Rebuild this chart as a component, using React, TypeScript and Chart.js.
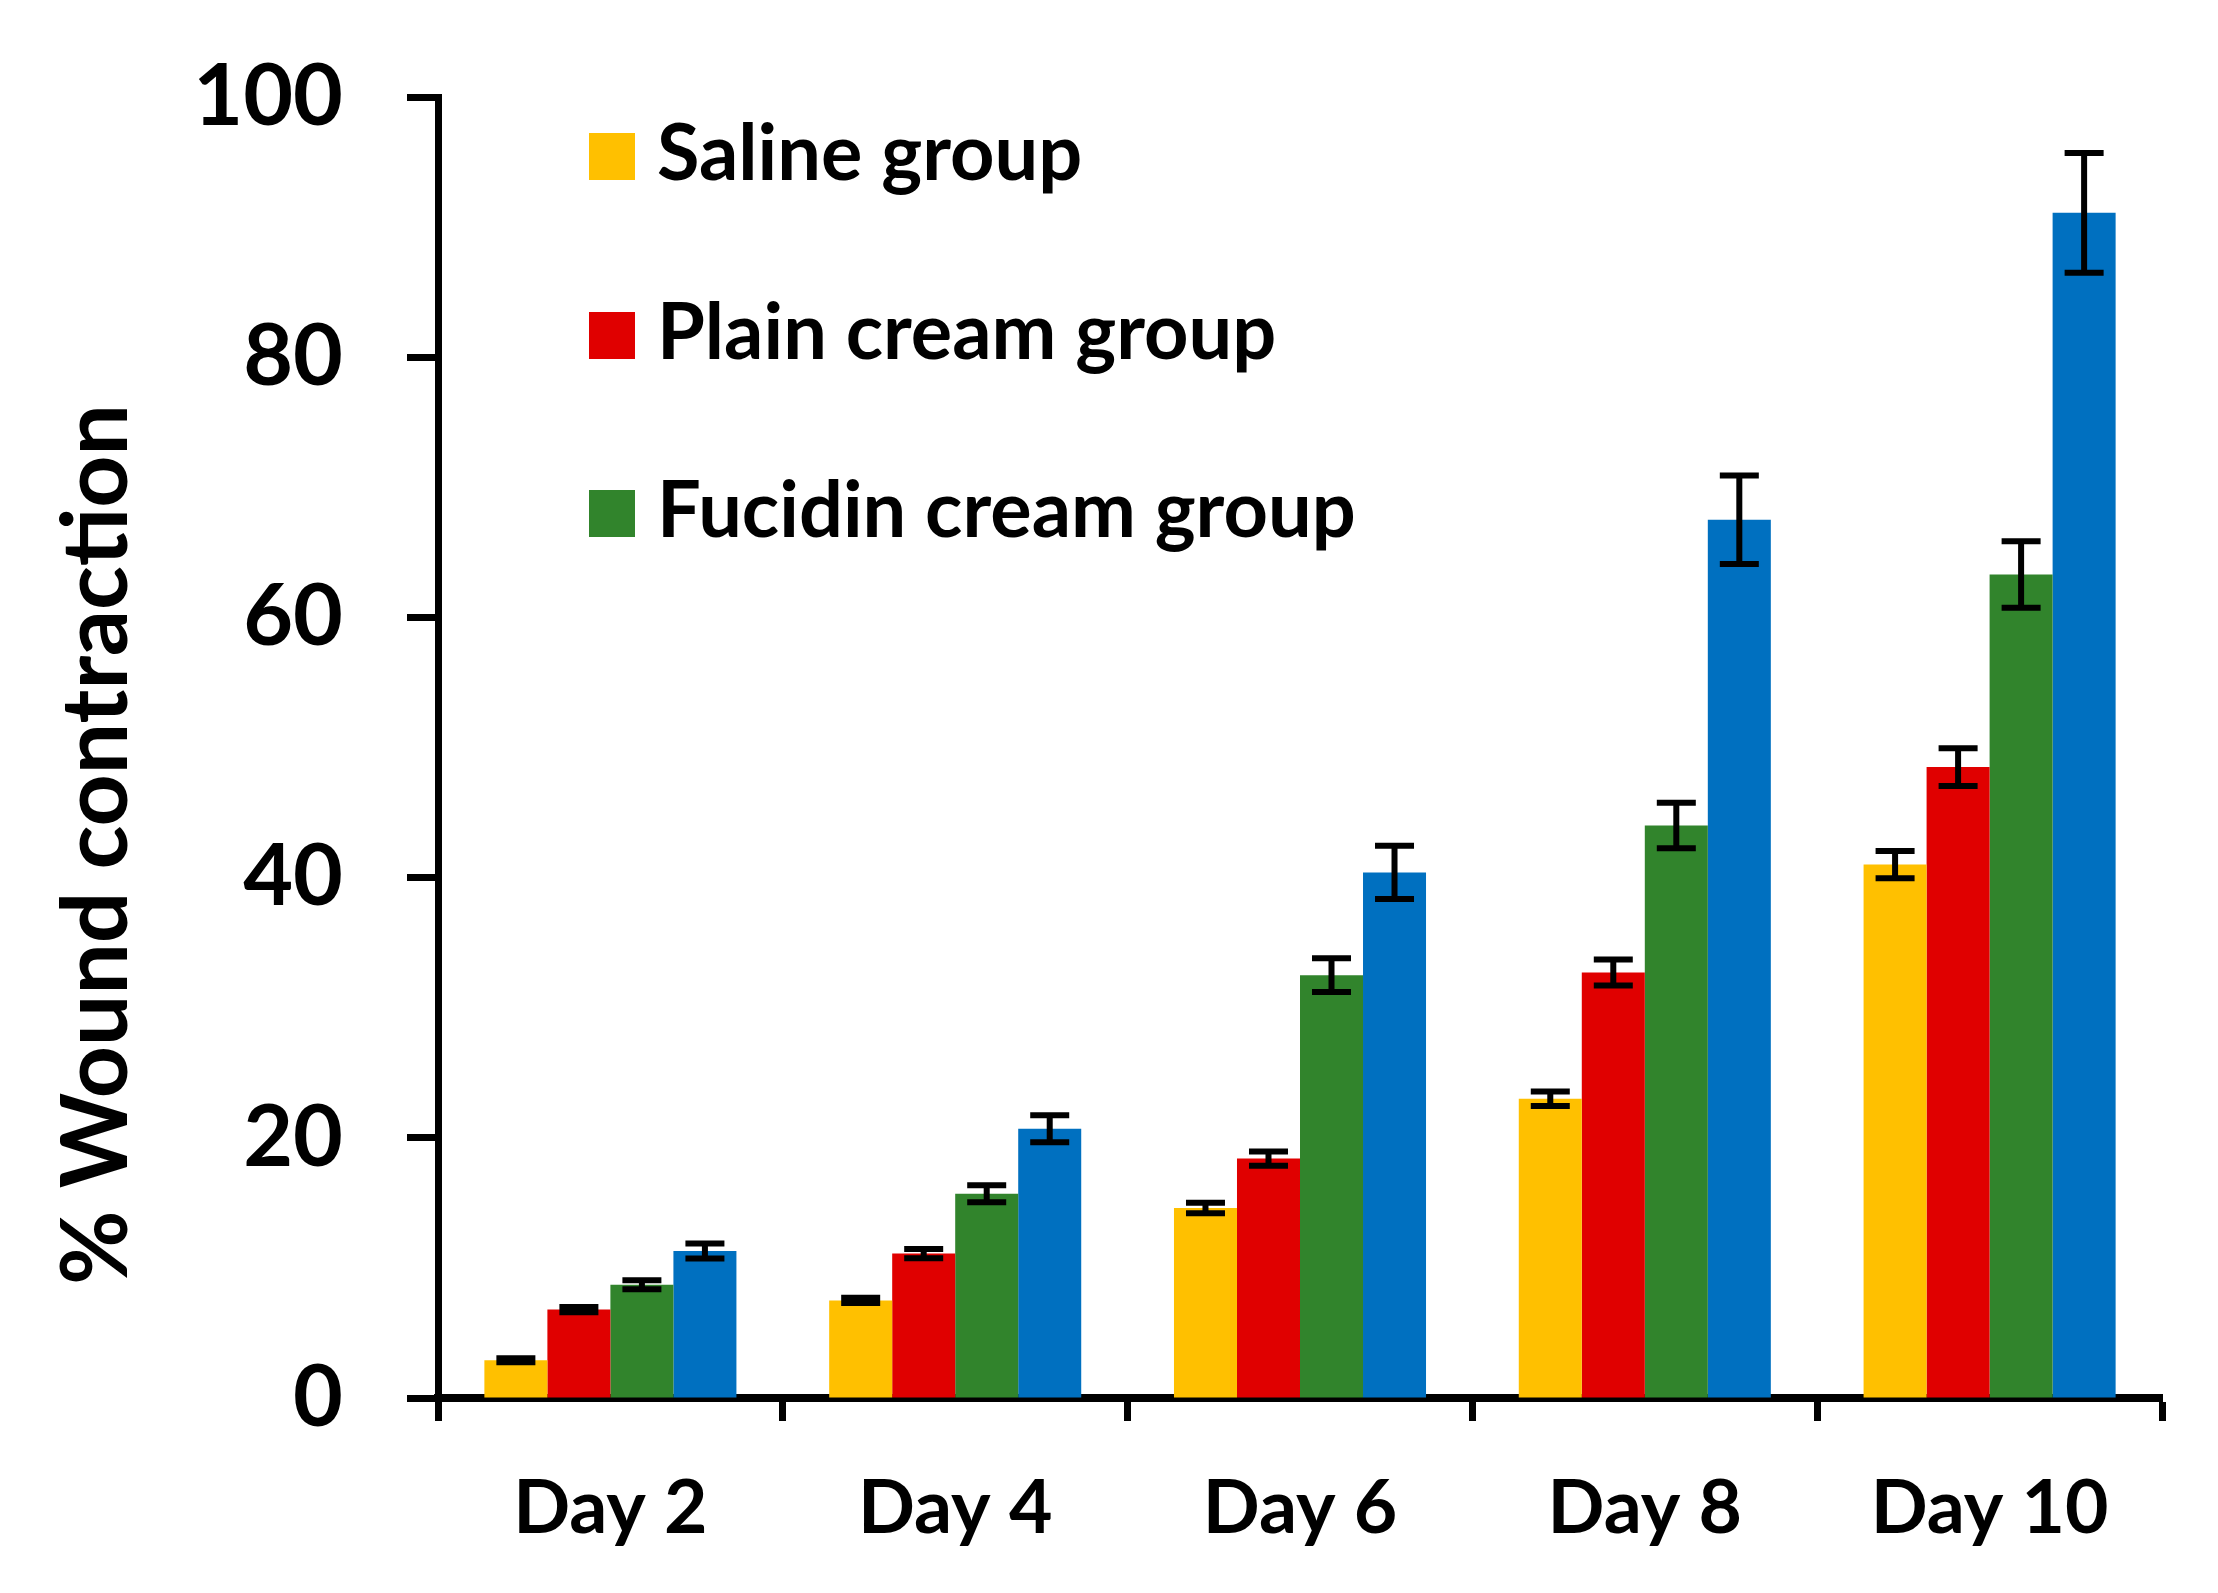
import React, { useEffect, useRef } from 'react';
import { Chart, registerables } from 'chart.js';

Chart.register(...registerables);

const categories = ['Day 2', 'Day 4', 'Day 6', 'Day 8', 'Day 10'];
const seriesLabels = ['Saline group', 'Plain cream group', 'Fucidin cream group', ''];
const salineValues = [2.9, 7.5, 14.6, 23.0, 41.0];
const salineErrors = [0.15, 0.2, 0.4, 0.55, 1.05];
const plainValues = [6.8, 11.1, 18.4, 32.7, 48.5];
const plainErrors = [0.2, 0.35, 0.55, 1.0, 1.45];
const fucidinValues = [8.7, 15.7, 32.5, 44.0, 63.3];
const fucidinErrors = [0.35, 0.65, 1.3, 1.75, 2.55];
const fourthValues = [11.3, 20.7, 40.4, 67.5, 91.1];
const fourthErrors = [0.58, 1.04, 2.05, 3.4, 4.6];
const yTickValues = [0, 20, 40, 60, 80, 100];
const yTitle = '% Wound contraction';
const seriesColors = ['#FFC000', '#E00000', '#31842C', '#0070C0'];

const FONT = 'Lato, "Open Sans", sans-serif';
const W = 2218;
const H = 1593;

const errorBarPlugin = {
  id: 'errorBars',
  afterDatasetsDraw(chart: any) {
    const ctx = chart.ctx;
    const yScale = chart.scales.y;
    ctx.save();
    ctx.strokeStyle = '#000';
    ctx.lineWidth = 6;
    ctx.lineCap = 'butt';
    chart.data.datasets.forEach((ds: any, i: number) => {
      const meta = chart.getDatasetMeta(i);
      meta.data.forEach((bar: any, j: number) => {
        const v = ds.data[j];
        const e = ds.errors[j];
        const x = bar.x;
        const yt = yScale.getPixelForValue(v + e);
        const yb = yScale.getPixelForValue(v - e);
        const half = 19.5;
        ctx.beginPath();
        ctx.moveTo(x, yt);
        ctx.lineTo(x, yb);
        ctx.moveTo(x - half, yt);
        ctx.lineTo(x + half, yt);
        ctx.moveTo(x - half, yb);
        ctx.lineTo(x + half, yb);
        ctx.stroke();
      });
    });
    ctx.restore();
  },
};

const legendAndTitlePlugin = {
  id: 'legendAndTitle',
  afterDraw(chart: any) {
    const ctx = chart.ctx;
    ctx.save();
    // legend
    const baselines = [180, 359, 537];
    let row = 0;
    chart.data.datasets.forEach((ds: any) => {
      if (!ds.label) return;
      const base = baselines[row];
      ctx.fillStyle = ds.backgroundColor;
      ctx.fillRect(589, base - 47, 46, 47);
      ctx.fillStyle = '#000';
      ctx.font = `bold 77.5px ${FONT}`;
      ctx.textAlign = 'left';
      ctx.textBaseline = 'alphabetic';
      ctx.fillText(ds.label, 657, base);
      row++;
    });
    // y axis title
    ctx.translate(127, 844.5);
    ctx.rotate(-Math.PI / 2);
    ctx.font = `bold 91px ${FONT}`;
    ctx.textAlign = 'center';
    ctx.textBaseline = 'alphabetic';
    ctx.fillStyle = '#000';
    ctx.fillText(yTitle, 0, 0);
    ctx.restore();
  },
};

export default function App() {
  const ref = useRef<HTMLCanvasElement | null>(null);

  useEffect(() => {
    document.body.style.margin = '0';
    const canvas = ref.current;
    if (!canvas) return;
    const valueSets = [salineValues, plainValues, fucidinValues, fourthValues];
    const errorSets = [salineErrors, plainErrors, fucidinErrors, fourthErrors];
    const chart = new Chart(canvas, {
      type: 'bar',
      data: {
        labels: categories,
        datasets: valueSets.map((vals, i) => ({
          label: seriesLabels[i],
          data: vals,
          errors: errorSets[i],
          backgroundColor: seriesColors[i],
          borderWidth: 0,
          categoryPercentage: 0.731,
          barPercentage: 1.0,
        })) as any,
      },
      options: {
        responsive: false,
        maintainAspectRatio: false,
        devicePixelRatio: 1,
        animation: false,
        layout: { padding: { top: 97, right: 56, bottom: 0, left: 0 } },
        plugins: {
          legend: { display: false },
          tooltip: { enabled: false },
          title: { display: false },
        },
        scales: {
          x: {
            offset: true,
            grid: {
              offset: true,
              display: true,
              drawOnChartArea: false,
              drawTicks: true,
              tickLength: 23,
              tickWidth: 7,
              tickColor: '#000',
              color: '#000',
            },
            border: { display: true, color: '#000', width: 8 },
            ticks: {
              color: '#000',
              font: { family: FONT, size: 75, weight: 'bold' },
              padding: 43,
              maxRotation: 0,
              autoSkip: false,
            },
            afterFit: (s: any) => {
              s.height = 195;
            },
          },
          y: {
            min: yTickValues[0],
            max: yTickValues[yTickValues.length - 1],
            afterBuildTicks: (s: any) => {
              s.ticks = yTickValues.map((v) => ({ value: v }));
            },
            grid: {
              display: true,
              drawOnChartArea: false,
              drawTicks: true,
              tickLength: 31,
              tickWidth: 7,
              tickColor: '#000',
              color: '#000',
            },
            border: { display: true, color: '#000', width: 7 },
            ticks: {
              color: '#000',
              font: { family: FONT, size: 86, weight: 'bold' },
              padding: 64,
            },
            afterFit: (s: any) => {
              s.width = 438;
              s.paddingTop = 40;
              s.paddingBottom = 40;
            },
          },
        },
      },
      plugins: [errorBarPlugin, legendAndTitlePlugin],
    });
    return () => chart.destroy();
  }, []);

  return (
    <div style={{ width: W, height: H, background: '#fff' }}>
      <canvas ref={ref} width={W} height={H} style={{ display: 'block', width: W, height: H }} />
    </div>
  );
}
